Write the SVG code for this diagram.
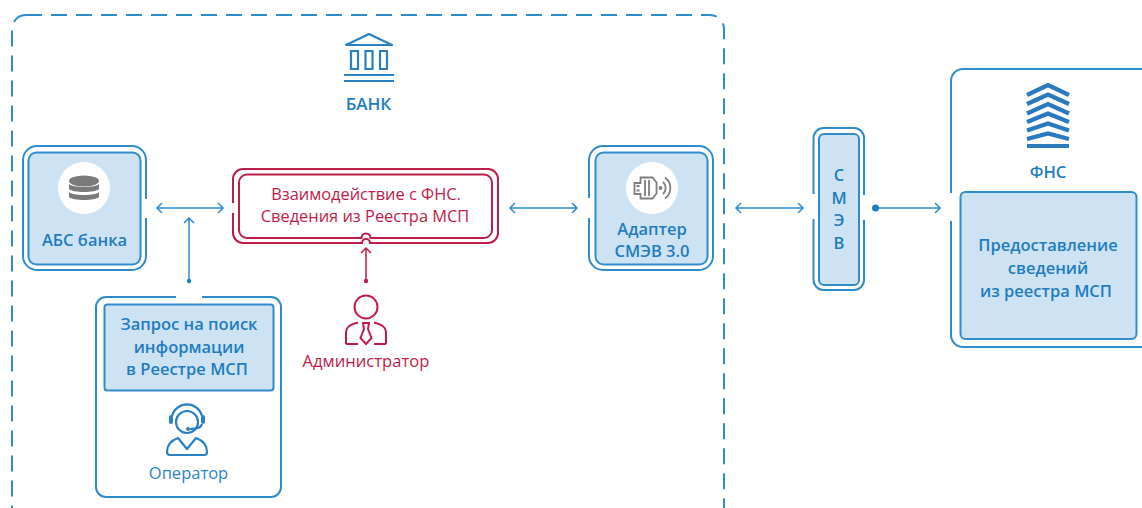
<svg xmlns="http://www.w3.org/2000/svg" width="1142" height="508" viewBox="0 0 1142 508">
<style>
text{font-family:"Open Sans","Noto Sans","Liberation Sans",sans-serif;text-anchor:middle}
.b{fill:none;stroke:#2f8ccb;stroke-width:2}
.bf{fill:#cde2f2;stroke:#2f8ccb;stroke-width:2}
.r{fill:none;stroke:#c01c48;stroke-width:2}
.t{fill:#1f7cc0;font-weight:600;font-size:16.500px}
.tn{fill:#2a86c6;font-size:16.500px}
.rt{fill:#c01c48;font-size:16.400px}
.ic{fill:none;stroke:#2a80c2;stroke-width:2.200}
.gr{fill:none;stroke:#7f7f7f;stroke-width:1.800}
.c{fill:none;stroke:#2f8ccb;stroke-width:1.500}
.cr{fill:none;stroke:#c01c48;stroke-width:1.500}
</style>
<rect id="frame" x="12" y="15" width="712" height="520" rx="14" fill="none" stroke="#2f8ccb" stroke-width="2" stroke-dasharray="16 9"/>
<g id="bank">
<path class="ic" d="M346 45L369 34L392 45Z" stroke-linejoin="round"/>
<path class="ic" d="M351 51h7v18h-7zM365.500 51h7v18h-7zM380 51h7v18h-7z"/>
<path class="ic" d="M344 75h50M344 81h50"/>
<text class="t" x="368.500" y="110" style="font-size:17px">БАНК</text>
</g>
<g id="abs">
<path class="b" d="M146 199V160a14 14 0 0 0-14-14H37a14 14 0 0 0-14 14V256a14 14 0 0 0 14 14H132a14 14 0 0 0 14-14V218"/>
<rect class="bf" x="28.500" y="152.500" width="112" height="112" rx="8"/>
<circle cx="84" cy="188" r="26" fill="#fff"/>
<g fill="#7a7a7a">
<ellipse cx="84" cy="181" rx="15" ry="5.500"/>
<path d="M69 184c3 4 27 4 30 0v5c-3 4-27 4-30 0zM69 192c3 4 27 4 30 0v5c-3 4-27 4-30 0z"/>
</g>
<text class="t" x="84.500" y="246">АБС банка</text>
</g>
<g id="interaction">
<path class="r" d="M233 203V179a10 10 0 0 1 10-10H488a10 10 0 0 1 10 10V233a10 10 0 0 1-10 10H370a4 4 0 0 0-8 0H243a10 10 0 0 1-10-10V213"/>
<path class="r" d="M247 174.500H484a8 8 0 0 1 8 8V230a8 8 0 0 1-8 8H370.500a4.500 4.500 0 0 0-9 0H247a8 8 0 0 1-8-8V182.500a8 8 0 0 1 8-8Z"/>
<text class="rt" x="366" y="200">Взаимодействие с ФНС.</text>
<text class="rt" x="365" y="222">Сведения из Реестра МСП</text>
</g>
<g id="adapter">
<path class="b" d="M589 198V160a14 14 0 0 1 14-14H699a14 14 0 0 1 14 14V256a14 14 0 0 1-14 14H603a14 14 0 0 1-14-14V218"/>
<rect class="bf" x="595.500" y="152.500" width="112" height="112" rx="8"/>
<circle cx="652" cy="188" r="26" fill="#fff"/>
<g class="gr">
<path d="M634.500 183h6v-5.500h12l4 5v11l-4 5h-12V194h-6z"/>
<path d="M636.500 186h3M636.500 190.500h3M645 180v16M649 180v16"/>
<path d="M663 182a8 8 0 0 1 0 12M665 177.500a13 13 0 0 1 0 21"/>
<circle cx="660.500" cy="188" r="1"/>
</g>
<text class="t" x="652" y="235">Адаптер</text>
<text class="t" x="652" y="257">СМЭВ 3.0</text>
</g>
<g id="smev">
<path class="b" d="M813.500 194V138a10 10 0 0 1 10-10H854a10 10 0 0 1 10 10V195M864 220V280a10 10 0 0 1-10 10H823.500a10 10 0 0 1-10-10V219"/>
<rect class="bf" x="819" y="134" width="40" height="151" rx="5"/>
<text class="t" x="839" y="181">С</text>
<text class="t" x="839" y="204">М</text>
<text class="t" x="839" y="226">Э</text>
<text class="t" x="839" y="249">В</text>
</g>
<g id="fns">
<path class="b" d="M1150 69H963a12 12 0 0 0-12 12V193M951 221V335a12 12 0 0 0 12 12H1150"/>
<rect class="bf" x="960.500" y="192" width="176" height="147" rx="5"/>
<g fill="none" stroke="#2a78bd" stroke-width="4.200">
<path d="M1027 95L1048 85L1069 95M1027 104L1048 94.500L1069 104M1027 113.500L1048 104L1069 113.500M1027 122L1048 113.500L1069 122M1027 130.500L1048 123.500L1069 130.500M1027 139L1048 133.500L1069 139M1027 146H1069"/>
</g>
<text class="t" x="1048" y="178">ФНС</text>
<text class="t" x="1048" y="251">Предоставление</text>
<text class="t" x="1048" y="274">сведений</text>
<text class="t" x="1046" y="297">из реестра МСП</text>
</g>
<g id="operator">
<path class="b" d="M176 297H106a10 10 0 0 0-10 10V487a10 10 0 0 0 10 10H271a10 10 0 0 0 10-10V307a10 10 0 0 0-10-10H202"/>
<rect class="bf" x="104.500" y="304.500" width="169" height="86" rx="3"/>
<text class="t" x="189" y="330">Запрос на поиск</text>
<text class="t" x="189" y="353">информации</text>
<text class="t" x="187" y="375">в Реестре МСП</text>
<g class="ic">
<circle cx="187" cy="422" r="11"/>
<path d="M172 416a15.500 15.500 0 0 1 30 0M202 424q-1 5-12 5"/>
<path d="M178 438q-11 4-11 14a3 3 0 0 0 3 3H204a3 3 0 0 0 3-3q0-10-11-14L187 449Z" stroke-linejoin="round"/>
</g>
<g fill="#2a80c2">
<rect x="169" y="415" width="4" height="9" rx="2"/>
<rect x="201" y="415" width="4" height="9" rx="2"/>
<circle cx="188" cy="429" r="2"/>
</g>
<text class="tn" x="188.500" y="479">Оператор</text>
</g>
<g id="admin">
<circle class="r" cx="366" cy="307" r="11.500"/>
<path class="r" d="M346 344V332q0-7 12-9.500M386 344V332q0-7-12-9.500M346 344h12M374 344h12"/>
<path class="r" d="M363 323h6l-1 6 3.500 9-5.500 6-5.500-6 3.500-9z"/>
<text class="rt" x="366" y="367" style="font-size:16.600px">Администратор</text>
</g>
<g id="connectors">
<path class="c" d="M157 208H223M162 203l-5 5 5 5M218 203l5 5-5 5"/>
<path class="c" d="M189 218V281M184 223l5-5 5 5"/>
<circle cx="189" cy="281" r="2.200" fill="#1f7cc0"/>
<path class="cr" d="M366 248V281M361 253l5-5 5 5"/>
<circle cx="366" cy="281" r="2.200" fill="#c01c48"/>
<path class="c" d="M510 208H577M515 203l-5 5 5 5M572 203l5 5-5 5"/>
<path class="c" d="M736 208H803M741 203l-5 5 5 5M798 203l5 5-5 5"/>
<path class="c" d="M876 208H940M935 203l5 5-5 5"/>
<circle cx="875.500" cy="208" r="3.500" fill="#1f7cc0"/>
</g>
</svg>
